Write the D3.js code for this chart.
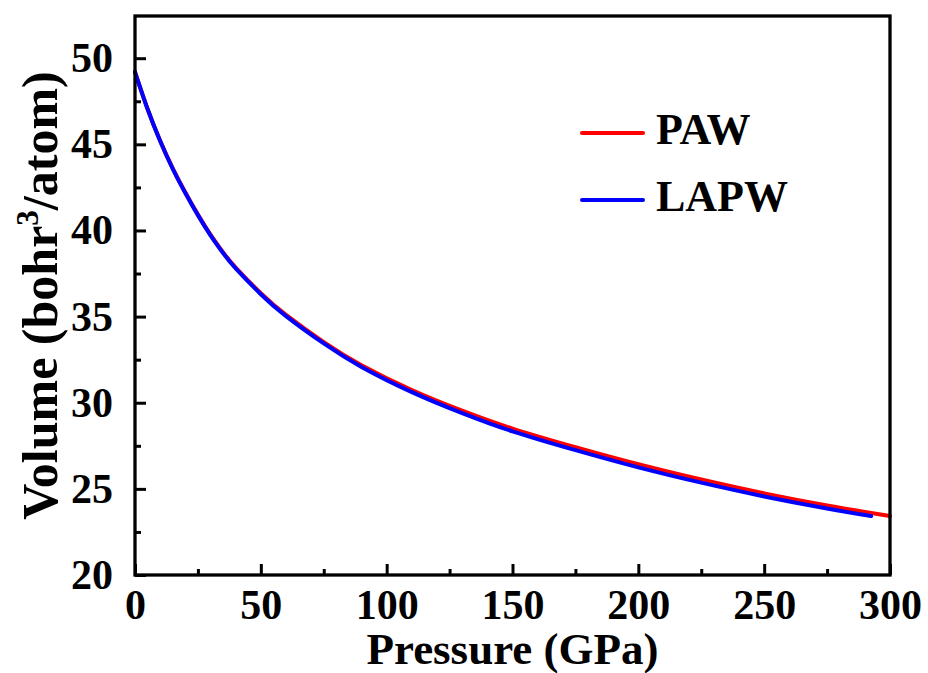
<!DOCTYPE html>
<html>
<head>
<meta charset="utf-8">
<script src="https://cdn.jsdelivr.net/npm/d3@7"></script>
<style>
  html, body { margin: 0; padding: 0; background: #fff; }
  svg text { font-family: "Liberation Serif", "Times New Roman", serif; font-weight: bold; fill: #000; }
</style>
</head>
<body>
<svg id="chart" width="928" height="673"></svg>
<script>
// Pressure (GPa) sample points
const pressure = [0, 5, 10, 15, 20, 25, 30, 35, 40, 50, 60, 75, 90, 110, 130, 150, 175, 200, 225, 250, 275, 292.5, 300];
// Equation-of-state volume (bohr^3/atom), PAW calculation
const volumePAW = [49.2, 47.05, 45.2, 43.6, 42.2, 40.92, 39.76, 38.73, 37.85, 36.36, 35.1, 33.52, 32.18, 30.74, 29.54, 28.5, 27.42, 26.43, 25.54, 24.74, 24.04, 23.6, 23.42];
// LAPW calculation (ends at 292.5 GPa)
const volumeLAPW = [49.2, 47.05, 45.19, 43.58, 42.18, 40.89, 39.72, 38.69, 37.8, 36.3, 35.03, 33.44, 32.08, 30.62, 29.4, 28.34, 27.25, 26.25, 25.36, 24.56, 23.86, 23.42, null];

const xTicks = [0, 50, 100, 150, 200, 250, 300];
const xMinor = [25, 75, 125, 175, 225, 275];
const yTicks = [20, 25, 30, 35, 40, 45, 50];
const yMinor = [22.5, 27.5, 32.5, 37.5, 42.5, 47.5];

const seriesNames = ["PAW", "LAPW"];
const seriesColors = ["#ff0000", "#0000ff"];

const FONT = '"Liberation Serif", "Times New Roman", serif';
const svg = d3.select("#chart");
const m = { left: 135, right: 890, top: 16, bottom: 575 };

const x = d3.scaleLinear().domain([0, 300]).range([m.left, m.right]);
const y = d3.scaleLinear().domain([20, 52.45]).range([m.bottom, m.top]);

// curves
const series = [volumePAW, volumeLAPW].map((vals, i) => ({
  name: seriesNames[i],
  color: seriesColors[i],
  points: pressure.map((p, j) => [p, vals[j]]).filter(d => d[1] != null)
}));

const line = d3.line()
  .x(d => x(d[0]))
  .y(d => y(d[1]))
  .curve(d3.curveNatural);

svg.append("g").selectAll("path")
  .data(series)
  .join("path")
  .attr("d", d => line(d.points))
  .attr("fill", "none")
  .attr("stroke", d => d.color)
  .attr("stroke-width", 4)
  .attr("stroke-linecap", "round")
  .attr("stroke-linejoin", "round");

// axes with inward ticks
const xAxis = svg.append("g").attr("transform", `translate(0,${m.bottom})`)
  .call(d3.axisBottom(x).tickValues(xTicks).tickSize(-11).tickPadding(14).tickFormat(d3.format("d")));
const xAxisMinor = svg.append("g").attr("transform", `translate(0,${m.bottom})`)
  .call(d3.axisBottom(x).tickValues(xMinor).tickSize(-6).tickFormat(""));
const yAxis = svg.append("g").attr("transform", `translate(${m.left},0)`)
  .call(d3.axisLeft(y).tickValues(yTicks).tickSize(-11).tickPadding(22).tickFormat(d3.format("d")));
const yAxisMinor = svg.append("g").attr("transform", `translate(${m.left},0)`)
  .call(d3.axisLeft(y).tickValues(yMinor).tickSize(-6).tickFormat(""));

[xAxis, xAxisMinor, yAxis, yAxisMinor].forEach(g => {
  g.select(".domain").remove();
  g.selectAll(".tick line").attr("stroke", "#000").attr("stroke-width", 3);
  g.selectAll("text").attr("font-size", 42).attr("fill", "#000")
    .style("font-family", FONT).style("font-weight", "bold");
});

// frame
svg.append("rect")
  .attr("x", m.left).attr("y", m.top)
  .attr("width", m.right - m.left).attr("height", m.bottom - m.top)
  .attr("fill", "none").attr("stroke", "#000").attr("stroke-width", 3.3);

// axis titles
svg.append("text")
  .attr("x", (m.left + m.right) / 2).attr("y", 664)
  .attr("text-anchor", "middle").attr("font-size", 45)
  .text("Pressure (GPa)");

const yt = svg.append("text")
  .attr("transform", `translate(57,${(m.top + m.bottom) / 2}) rotate(-90)`)
  .attr("text-anchor", "middle").attr("font-size", 50);
yt.append("tspan").text("Volume (bohr");
yt.append("tspan").attr("font-size", 31).attr("dy", -19).text("3");
yt.append("tspan").attr("dy", 19).text("/atom)");

// legend
const legend = svg.append("g").selectAll("g")
  .data(series)
  .join("g")
  .attr("transform", (d, i) => `translate(0,${133 + i * 67})`);
legend.append("line")
  .attr("x1", 582).attr("x2", 643)
  .attr("stroke", d => d.color).attr("stroke-width", 4).attr("stroke-linecap", "round");
legend.append("text")
  .attr("x", 656).attr("y", 11)
  .attr("font-size", 44)
  .text(d => d.name);
</script>
</body>
</html>
